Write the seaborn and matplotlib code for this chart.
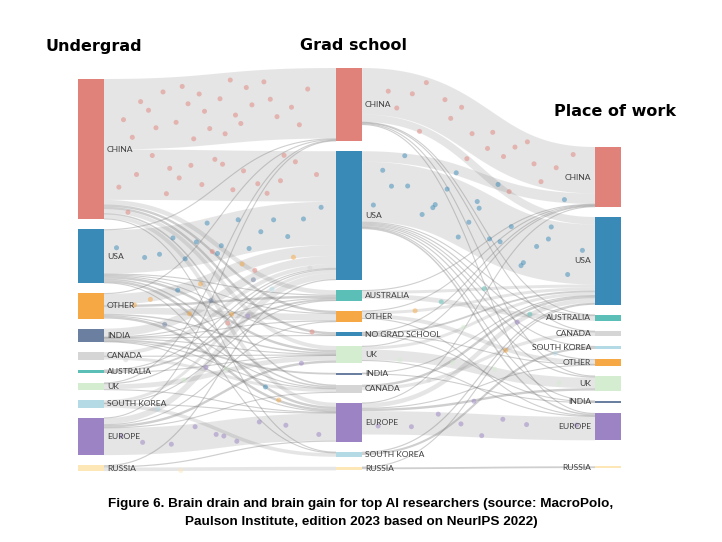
import numpy as np
import pandas as pd
import matplotlib
matplotlib.use("Agg")
import matplotlib.pyplot as plt
import seaborn as sns

# --- node order per column (top to bottom) ---
undergrad = ["CHINA", "USA", "OTHER", "INDIA", "CANADA", "AUSTRALIA", "UK",
             "SOUTH KOREA", "EUROPE", "RUSSIA"]
grad = ["CHINA", "USA", "AUSTRALIA", "OTHER", "NO GRAD SCHOOL", "UK", "INDIA",
        "CANADA", "EUROPE", "SOUTH KOREA", "RUSSIA"]
work = ["CHINA", "USA", "AUSTRALIA", "CANADA", "SOUTH KOREA", "OTHER", "UK",
        "INDIA", "EUROPE", "RUSSIA"]
headers = ["Undergrad", "Grad school", "Place of work"]

# --- flows, share of top AI researchers (%) ---
undergrad_to_grad = [
    ("CHINA", "CHINA", 23.5), ("CHINA", "USA", 16.8), ("CHINA", "AUSTRALIA", 1.5),
    ("CHINA", "OTHER", 0.8), ("CHINA", "NO GRAD SCHOOL", 0.8), ("CHINA", "UK", 1.3),
    ("CHINA", "CANADA", 0.5), ("CHINA", "EUROPE", 1.3), ("CHINA", "SOUTH KOREA", 0.3),
    ("USA", "CHINA", 0.2), ("USA", "USA", 14.5), ("USA", "AUSTRALIA", 0.3),
    ("USA", "OTHER", 0.3), ("USA", "NO GRAD SCHOOL", 0.3), ("USA", "UK", 0.8),
    ("USA", "CANADA", 0.5), ("USA", "EUROPE", 0.8), ("USA", "SOUTH KOREA", 0.2),
    ("OTHER", "CHINA", 0.3), ("OTHER", "USA", 3.6), ("OTHER", "AUSTRALIA", 0.8),
    ("OTHER", "OTHER", 2.2), ("OTHER", "UK", 0.5), ("OTHER", "CANADA", 0.3),
    ("OTHER", "EUROPE", 0.8),
    ("INDIA", "USA", 2.7), ("INDIA", "AUSTRALIA", 0.2), ("INDIA", "OTHER", 0.2),
    ("INDIA", "NO GRAD SCHOOL", 0.1), ("INDIA", "UK", 0.3), ("INDIA", "INDIA", 0.6),
    ("INDIA", "CANADA", 0.2), ("INDIA", "EUROPE", 0.2),
    ("CANADA", "USA", 1.3), ("CANADA", "CANADA", 1.0), ("CANADA", "UK", 0.2),
    ("AUSTRALIA", "USA", 0.3), ("AUSTRALIA", "AUSTRALIA", 0.6), ("AUSTRALIA", "UK", 0.1),
    ("UK", "CHINA", 0.2), ("UK", "USA", 0.4), ("UK", "UK", 1.6), ("UK", "EUROPE", 0.3),
    ("SOUTH KOREA", "USA", 1.0), ("SOUTH KOREA", "AUSTRALIA", 0.1),
    ("SOUTH KOREA", "EUROPE", 0.2), ("SOUTH KOREA", "SOUTH KOREA", 1.2),
    ("EUROPE", "CHINA", 0.2), ("EUROPE", "USA", 2.0), ("EUROPE", "OTHER", 0.3),
    ("EUROPE", "UK", 0.8), ("EUROPE", "CANADA", 0.2), ("EUROPE", "EUROPE", 9.0),
    ("RUSSIA", "USA", 0.4), ("RUSSIA", "EUROPE", 0.4), ("RUSSIA", "RUSSIA", 1.2),
]
grad_to_work = [
    ("CHINA", "CHINA", 15.5), ("CHINA", "USA", 2.5), ("CHINA", "AUSTRALIA", 0.2),
    ("CHINA", "CANADA", 0.2), ("CHINA", "UK", 0.3), ("CHINA", "EUROPE", 0.3),
    ("USA", "CHINA", 3.5), ("USA", "USA", 20.0), ("USA", "AUSTRALIA", 0.3),
    ("USA", "CANADA", 0.4), ("USA", "SOUTH KOREA", 0.3), ("USA", "OTHER", 0.4),
    ("USA", "UK", 0.4), ("USA", "INDIA", 0.2), ("USA", "EUROPE", 0.5),
    ("AUSTRALIA", "CHINA", 0.2), ("AUSTRALIA", "USA", 1.0), ("AUSTRALIA", "AUSTRALIA", 1.6),
    ("OTHER", "CHINA", 0.2), ("OTHER", "USA", 1.0), ("OTHER", "OTHER", 1.3),
    ("OTHER", "EUROPE", 0.2),
    ("NO GRAD SCHOOL", "CHINA", 0.2), ("NO GRAD SCHOOL", "USA", 0.6),
    ("NO GRAD SCHOOL", "OTHER", 0.2), ("NO GRAD SCHOOL", "INDIA", 0.3),
    ("UK", "CHINA", 0.2), ("UK", "USA", 1.0), ("UK", "UK", 3.5), ("UK", "EUROPE", 0.3),
    ("INDIA", "USA", 0.2), ("INDIA", "INDIA", 0.3),
    ("CANADA", "USA", 0.8), ("CANADA", "CANADA", 1.1),
    ("EUROPE", "CHINA", 0.2), ("EUROPE", "USA", 1.5), ("EUROPE", "OTHER", 0.3),
    ("EUROPE", "UK", 0.8), ("EUROPE", "EUROPE", 7.8),
    ("SOUTH KOREA", "USA", 0.4), ("SOUTH KOREA", "SOUTH KOREA", 0.7),
    ("RUSSIA", "USA", 0.2), ("RUSSIA", "RUSSIA", 0.6),
]

colors = {
    "CHINA": "#e0827a", "USA": "#3a8ab8", "OTHER": "#f5a843", "INDIA": "#6b7fa0",
    "CANADA": "#d5d5d5", "AUSTRALIA": "#5bbfb7", "UK": "#d4ecd0",
    "SOUTH KOREA": "#b3dae5", "EUROPE": "#9b83c4", "RUSSIA": "#fde7b6",
    "NO GRAD SCHOOL": "#3a8ab8",
}

# --- layout (canvas in pixels) ---
SCALE = 3.0          # px per percentage point
GAP = 10.0
NODE_W = 26
col_x = [78, 336, 595]
col_top = [79, 68, 147]
extra_gap = {2: {"RUSSIA": 16}}

cols = [undergrad, grad, work]
stages = [undergrad_to_grad, grad_to_work]

in_sum = [dict.fromkeys(c, 0.0) for c in cols]
out_sum = [dict.fromkeys(c, 0.0) for c in cols]
for s, flows in enumerate(stages):
    for a, b, v in flows:
        out_sum[s][a] += v
        in_sum[s + 1][b] += v

pos = []
for c, names in enumerate(cols):
    y = col_top[c]
    p = {}
    for n in names:
        y += extra_gap.get(c, {}).get(n, 0)
        h = max(in_sum[c][n], out_sum[c][n]) * SCALE
        p[n] = (y, h)
        y += h + GAP
    pos.append(p)

sns.set_theme(style="white")
fig = plt.figure(figsize=(7.22, 5.42), dpi=100)
ax = fig.add_axes([0, 0, 1, 1])


def bezier(x0, y0, x1, y1, t):
    xm = (x0 + x1) / 2
    u = 1 - t
    x = u**3 * x0 + 3 * u**2 * t * xm + 3 * u * t**2 * xm + t**3 * x1
    y = u**3 * y0 + 3 * u**2 * t * y0 + 3 * u * t**2 * y1 + t**3 * y1
    return x, y


def halton(i, base):
    f, r = 1.0, 0.0
    while i > 0:
        f /= base
        r += f * (i % base)
        i //= base
    return r


# particles drifting along the links (decoration, evenly spread)
dots = []
counter = 1
tt = np.linspace(0, 1, 120)
for s, flows in enumerate(stages):
    src, dst = cols[s], cols[s + 1]
    ys0, ys1 = {}, {}
    off = {n: pos[s][n][0] for n in src}
    for a, b, v in sorted(flows, key=lambda f: (src.index(f[0]), dst.index(f[1]))):
        w = v * SCALE
        ys0[(a, b)] = off[a] + w / 2
        off[a] += w
    off = {n: pos[s + 1][n][0] for n in dst}
    for a, b, v in sorted(flows, key=lambda f: (dst.index(f[1]), src.index(f[0]))):
        w = v * SCALE
        ys1[(a, b)] = off[b] + w / 2
        off[b] += w
    x0 = col_x[s] + NODE_W
    x1 = col_x[s + 1]
    for a, b, v in flows:
        w = v * SCALE
        xs, ys = bezier(x0, ys0[(a, b)], x1, ys1[(a, b)], tt)
        thin = w < 3
        ax.plot(xs, ys, lw=max(w, 1.1) * 0.72, color="#7a7a7a",
                alpha=0.36 if thin else 0.19, solid_capstyle="butt", zorder=1)
        for _ in range(int(v * 1.1 + 0.25)):
            t = 0.03 + 0.94 * halton(counter, 2)
            o = (halton(counter, 3) - 0.5) * 0.85 * w
            px, py = bezier(x0, ys0[(a, b)], x1, ys1[(a, b)], t)
            dots.append((px, py + o, a))
            counter += 1

dot_df = pd.DataFrame(dots, columns=["x", "y", "origin"])
sns.scatterplot(data=dot_df, x="x", y="y", hue="origin", palette=colors,
                s=13, alpha=0.5, linewidth=0, legend=False, ax=ax, zorder=2)

label_font = ["Lato", "DejaVu Sans"]
for c, names in enumerate(cols):
    for n in names:
        y, h = pos[c][n]
        ax.bar(col_x[c], h, bottom=y, width=NODE_W, align="edge",
               color=colors[n], linewidth=0, zorder=3)
        if c < 2:
            ax.text(col_x[c] + NODE_W + 3, y + h / 2, n, ha="left", va="center",
                    fontsize=6.1, color="#404040", family=label_font, zorder=4)
        else:
            ax.text(col_x[c] - 4, y + h / 2, n, ha="right", va="center",
                    fontsize=6.1, color="#404040", family=label_font, zorder=4)

header_pos = [(94, 46), (353, 46), (615, 111)]
for (hx, hy), txt in zip(header_pos, headers):
    ax.text(hx, hy, txt, ha="center", va="center", fontsize=11.5,
            fontweight="bold", family="DejaVu Sans", color="black")

ax.text(361, 504, "Figure 6. Brain drain and brain gain for top AI researchers (source: MacroPolo,",
        ha="center", va="center", fontsize=9.7, fontweight="bold",
        family="Liberation Sans", color="black")
ax.text(361, 522, "Paulson Institute, edition 2023 based on NeurIPS 2022)",
        ha="center", va="center", fontsize=9.7, fontweight="bold",
        family="Liberation Sans", color="black")

ax.set_xlim(0, 722)
ax.set_ylim(542, 0)
ax.axis("off")

fig.savefig("out.png", dpi=100)
